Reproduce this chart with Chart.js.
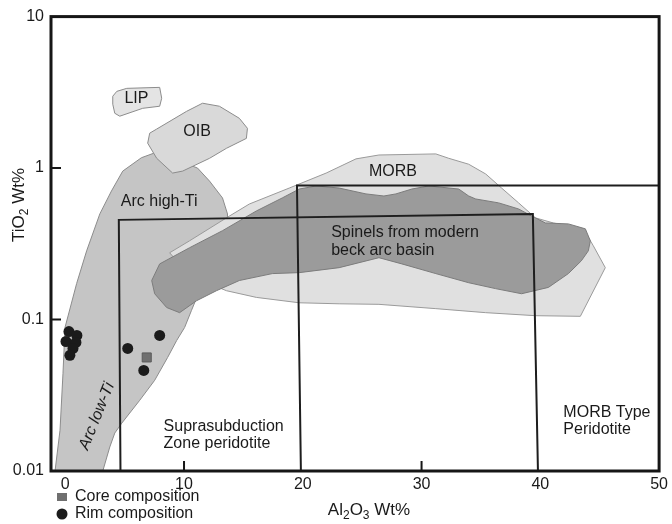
<!DOCTYPE html>
<html>
<head>
<meta charset="utf-8">
<script src="https://cdn.jsdelivr.net/npm/chart.js@4/dist/chart.umd.min.js"></script>
<style>
  html, body { margin: 0; padding: 0; background: #ffffff; }
  canvas { display: block; }
</style>
</head>
<body>
<canvas id="chart" width="672" height="524"></canvas>
<script>
const FONT = '"Liberation Sans", Arial, Helvetica, sans-serif';
const INK = '#1a1a1a';

// Axis ticks
const xTicks = [0, 10, 20, 30, 40, 50];
const yTicks = [0.01, 0.1, 1, 10];

// Field outlines: Al2O3 wt% (x) and TiO2 wt% (y)
const lipAl = [4.00, 4.34, 5.18, 7.95, 8.12, 7.95, 6.52, 4.59, 4.17, 4.00];
const lipTi = [2.98, 3.21, 3.36, 3.41, 2.89, 2.56, 2.48, 2.20, 2.30, 2.64];

const oibAl = [7.11, 7.70, 10.22, 11.56, 12.98, 14.66, 15.34, 15.25, 13.57, 12.15, 9.88, 9.04, 7.70, 6.94];
const oibTi = [1.70, 1.81, 2.37, 2.68, 2.56, 2.13, 1.83, 1.57, 1.35, 1.16, 0.955, 0.927, 1.16, 1.46];

const arcAl = [-0.86, -0.44, -0.19, -0.02, 0.96, 1.80, 2.91, 3.89, 4.84, 6.41, 7.53, 8.79, 10.05, 11.14,
               12.15, 13.24, 13.66, 13.66, 12.57, 11.31, 10.63, 10.05, 9.38, 8.62, 7.53, 6.27, 4.76, 4.17, 3.75, 3.16];
const arcTi = [0.01, 0.0186, 0.0442, 0.0886, 0.173, 0.284, 0.498, 0.706, 0.955, 1.17, 1.26, 1.26, 1.08, 1.0,
               0.820, 0.635, 0.498, 0.415, 0.244, 0.155, 0.115, 0.0886, 0.0727, 0.0562, 0.0397, 0.0293, 0.0207, 0.0178, 0.0144, 0.01];

const morbAl = [8.79, 10.47, 13.57, 15.50, 18.86, 21.97, 24.48, 26.41, 31.20, 32.29, 33.97, 35.40, 36.74, 38.17, 39.59,
                41.10, 43.62, 44.46, 45.47, 43.37, 39.59, 35.40, 31.20, 26.41, 23.06, 19.70, 16.09, 13.57, 10.47];
const morbTi = [0.276, 0.331, 0.469, 0.579, 0.738, 0.927, 1.15, 1.22, 1.24, 1.16, 1.06, 0.914, 0.738, 0.589, 0.469,
                0.434, 0.397, 0.307, 0.220, 0.105, 0.106, 0.111, 0.118, 0.126, 0.127, 0.129, 0.140, 0.155, 0.195];

const babAl = [7.28, 7.95, 10.47, 13.24, 16.09, 18.27, 19.70, 21.13, 23.06, 25.32, 26.83, 27.84, 29.18, 30.61, 33.13,
               33.97, 34.56, 36.49, 38.17, 39.26, 40.43, 42.36, 43.79, 44.21, 44.04, 43.45, 42.36, 40.68, 38.42, 36.23,
               33.97, 31.20, 28.34, 26.41, 23.06, 19.70, 17.43, 14.66, 12.73, 11.05, 9.63, 8.54, 7.53];
const babTi = [0.181, 0.233, 0.298, 0.386, 0.521, 0.635, 0.727, 0.762, 0.738, 0.675, 0.654, 0.675, 0.727, 0.762, 0.727,
               0.654, 0.625, 0.589, 0.537, 0.483, 0.434, 0.428, 0.397, 0.331, 0.284, 0.244, 0.201, 0.163, 0.148, 0.160,
               0.175, 0.201, 0.233, 0.256, 0.220, 0.204, 0.201, 0.181, 0.155, 0.133, 0.111, 0.120, 0.148];

// Peridotite boundary boxes
const sszAl = [4.65, 4.51, 39.37, 39.80];
const sszTi = [0.01, 0.455, 0.498, 0.01];
const morbBoxAl = [19.84, 19.51, 50];
const morbBoxTi = [0.01, 0.767, 0.767];

// Analysed spinels
const rimAl = [0.31, 0.98, 0.06, 0.90, 0.65, 0.39, 7.95, 5.26, 6.61];
const rimTi = [0.0833, 0.0785, 0.0716, 0.0706, 0.0645, 0.0580, 0.0785, 0.0645, 0.0461];
const coreAl = [6.86];
const coreTi = [0.0562];

// Field names, anchored in data units
const notes = [
  { text: 'LIP', x: 5.99, y: 2.89, align: 'center' },
  { text: 'OIB', x: 11.10, y: 1.75, align: 'center' },
  { text: 'Arc high-Ti', x: 7.91, y: 0.597, align: 'center' },
  { text: 'MORB', x: 27.59, y: 0.955, align: 'center' },
  { text: 'Spinels from modern', x: 22.39, y: 0.373, align: 'left' },
  { text: 'beck arc basin', x: 22.39, y: 0.284, align: 'left' },
  { text: 'Suprasubduction', x: 8.28, y: 0.0195, align: 'left' },
  { text: 'Zone peridotite', x: 8.28, y: 0.01506, align: 'left' },
  { text: 'MORB Type', x: 41.94, y: 0.0244, align: 'left' },
  { text: 'Peridotite', x: 41.94, y: 0.0189, align: 'left' },
  { text: 'Arc low-Ti', x: 2.66, y: 0.0230, align: 'center', angle: -68, italic: true }
];

const innerXTicks = [10, 30];
const innerYTicks = [0.1, 1];

function pairUp(xs, ys) {
  return xs.map((x, i) => ({ x: x, y: ys[i] }));
}
function ring(xs, ys) {
  const p = pairUp(xs, ys);
  p.push({ x: xs[0], y: ys[0] });
  return p;
}
function field(xs, ys, fillColor, edgeColor, order) {
  return {
    data: ring(xs, ys), showLine: true, fill: 'shape', tension: 0,
    backgroundColor: fillColor, borderColor: edgeColor, borderWidth: 1,
    pointRadius: 0, pointHoverRadius: 0, order: order
  };
}
function outline(xs, ys, order) {
  return {
    data: pairUp(xs, ys), showLine: true, fill: false, tension: 0,
    borderColor: '#1e1e1e', borderWidth: 2, pointRadius: 0, pointHoverRadius: 0, order: order
  };
}

function drawParts(ctx, parts, size) {
  // total width of a label made of normal and subscript runs
  let w = 0;
  parts.forEach(p => {
    ctx.font = (p.sub ? Math.round(size * 0.68) : size) + 'px ' + FONT;
    p.w = ctx.measureText(p.t).width;
    w += p.w;
  });
  let x = -w / 2;
  parts.forEach(p => {
    ctx.font = (p.sub ? Math.round(size * 0.68) : size) + 'px ' + FONT;
    ctx.fillText(p.t, x, p.sub ? size * 0.32 : 0);
    x += p.w;
  });
}

const decorations = {
  id: 'decorations',
  afterDatasetsDraw(chart) {
    const { ctx, chartArea: a, scales: { x, y } } = chart;
    ctx.save();

    // frame
    ctx.strokeStyle = '#161616';
    ctx.lineWidth = 3;
    ctx.strokeRect(a.left, a.top, a.right - a.left, a.bottom - a.top);

    // inward tick marks
    ctx.lineWidth = 2;
    ctx.beginPath();
    innerXTicks.forEach(v => {
      const px = x.getPixelForValue(v);
      ctx.moveTo(px, a.bottom); ctx.lineTo(px, a.bottom - 10);
    });
    innerYTicks.forEach(v => {
      const py = y.getPixelForValue(v);
      ctx.moveTo(a.left, py); ctx.lineTo(a.left + 10, py);
    });
    ctx.stroke();

    // field names
    ctx.fillStyle = INK;
    ctx.textBaseline = 'middle';
    notes.forEach(n => {
      ctx.save();
      ctx.font = (n.italic ? 'italic ' : '') + '16px ' + FONT;
      ctx.textAlign = n.align;
      ctx.translate(x.getPixelForValue(n.x), y.getPixelForValue(n.y));
      if (n.angle) ctx.rotate(n.angle * Math.PI / 180);
      ctx.fillText(n.text, 0, 0);
      ctx.restore();
    });

    // axis titles
    ctx.textAlign = 'left';
    ctx.textBaseline = 'middle';
    ctx.save();
    ctx.translate(a.left + 318, a.bottom + 39);
    drawParts(ctx, [{ t: 'Al' }, { t: '2', sub: true }, { t: 'O' }, { t: '3', sub: true }, { t: ' Wt%' }], 17);
    ctx.restore();
    ctx.save();
    ctx.translate(a.left - 32, 205);
    ctx.rotate(-Math.PI / 2);
    drawParts(ctx, [{ t: 'TiO' }, { t: '2', sub: true }, { t: ' Wt%' }], 17);
    ctx.restore();

    // legend
    const lx = a.left + 11;
    const r1 = a.bottom + 26, r2 = a.bottom + 43;
    ctx.fillStyle = '#6f6f6f';
    ctx.fillRect(lx - 5, r1 - 4, 10, 8);
    ctx.fillStyle = '#1b1b1b';
    ctx.beginPath();
    ctx.arc(lx, r2, 5.5, 0, Math.PI * 2);
    ctx.fill();
    ctx.fillStyle = INK;
    ctx.font = '16px ' + FONT;
    ctx.textAlign = 'left';
    ctx.fillText('Core composition', lx + 13, r1);
    ctx.fillText('Rim composition', lx + 13, r2);

    ctx.restore();
  }
};

new Chart(document.getElementById('chart'), {
  type: 'scatter',
  data: {
    datasets: [
      { data: pairUp(rimAl, rimTi), pointStyle: 'circle', pointRadius: 5.5, pointHoverRadius: 5.5,
        backgroundColor: '#1b1b1b', borderWidth: 0, showLine: false, order: 0 },
      { data: pairUp(coreAl, coreTi), pointStyle: 'rect', pointRadius: 6.4, pointHoverRadius: 6.4,
        backgroundColor: '#707070', borderColor: '#5a5a5a', borderWidth: 1, showLine: false, order: 0 },
      outline(sszAl, sszTi, 1),
      outline(morbBoxAl, morbBoxTi, 1),
      field(lipAl, lipTi, '#e4e4e4', '#8c8c8c', 2),
      field(oibAl, oibTi, '#d9d9d9', '#8c8c8c', 3),
      field(babAl, babTi, '#9b9b9b', '#7c7c7c', 4),
      field(morbAl, morbTi, '#e0e0e0', '#9a9a9a', 5),
      field(arcAl, arcTi, '#c5c5c5', '#8c8c8c', 6)
    ]
  },
  options: {
    responsive: false,
    animation: false,
    devicePixelRatio: 1,
    events: [],
    layout: { padding: { top: 15, right: 11, left: 0, bottom: 0 } },
    plugins: { legend: { display: false }, tooltip: { enabled: false } },
    scales: {
      x: {
        type: 'linear', min: -1.2, max: 50,
        afterBuildTicks: s => { s.ticks = xTicks.map(v => ({ value: v })); },
        afterFit: s => { s.height = 53; },
        ticks: { font: { family: FONT, size: 16 }, color: INK, padding: 4, maxRotation: 0, autoSkip: false },
        grid: { display: false, drawTicks: false },
        border: { display: false }
      },
      y: {
        type: 'logarithmic', min: 0.01, max: 10,
        afterBuildTicks: s => { s.ticks = yTicks.map(v => ({ value: v })); },
        afterFit: s => { s.width = 51; },
        ticks: { font: { family: FONT, size: 16 }, color: INK, padding: 7, autoSkip: false,
                 callback: v => String(v) },
        grid: { display: false, drawTicks: false },
        border: { display: false }
      }
    }
  },
  plugins: [decorations]
});
</script>
</body>
</html>
